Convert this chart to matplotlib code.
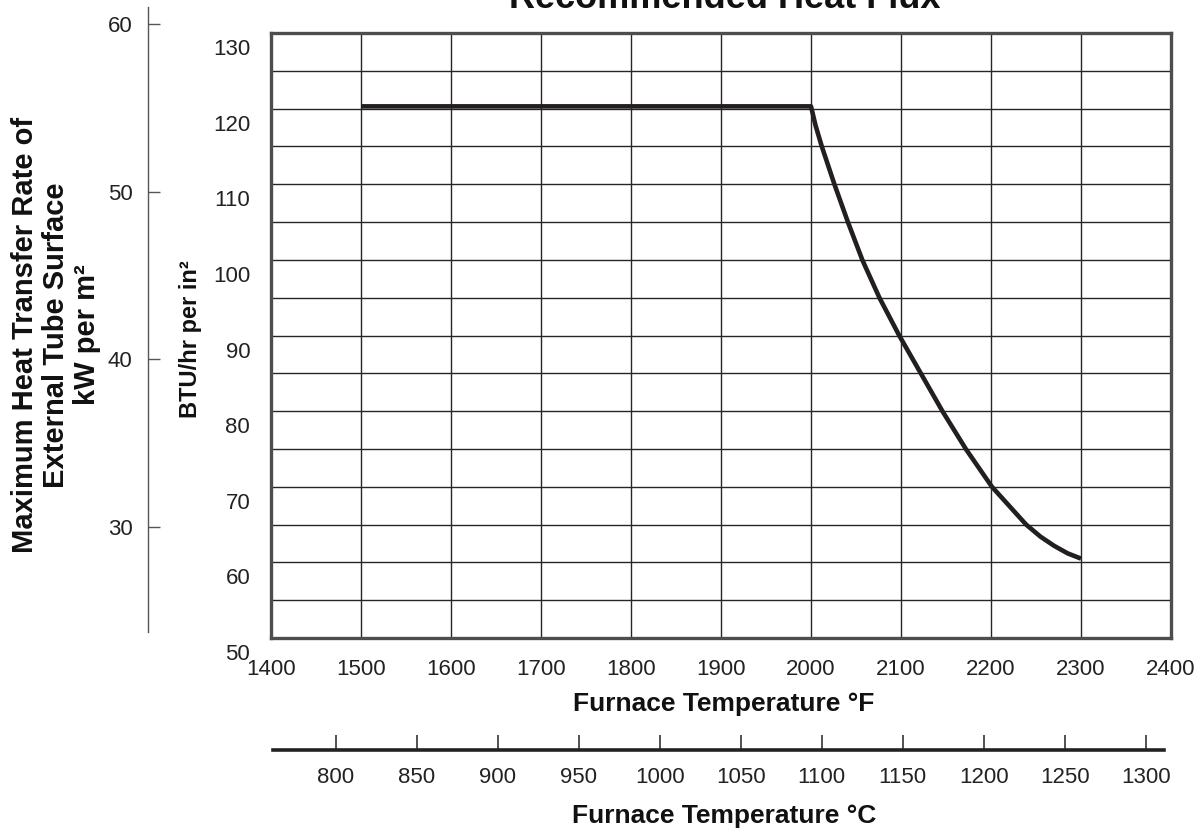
import numpy as np
import matplotlib
matplotlib.use("Agg")
import matplotlib.pyplot as plt
from matplotlib.transforms import ScaledTranslation

plt.rcParams['font.family'] = ['Liberation Sans', 'DejaVu Sans']

# ---- data ----
temp_f = [1500, 2000, 2005, 2012, 2026, 2041, 2057, 2076, 2098, 2122, 2146, 2172,
          2201, 2220, 2239, 2255, 2270, 2285, 2300]
flux_btu = [120.3, 120.3, 117.8, 115, 110, 105, 100, 95, 90, 85, 80, 75,
            70, 67.5, 65, 63.4, 62.2, 61.2, 60.5]

f_ticks = [1400, 1500, 1600, 1700, 1800, 1900, 2000, 2100, 2200, 2300, 2400]
btu_ticks = [50, 60, 70, 80, 90, 100, 110, 120, 130]
btu_minor = [55, 65, 75, 85, 95, 105, 115, 125]
kw_ticks = [30, 40, 50, 60]
c_ticks = [800, 850, 900, 950, 1000, 1050, 1100, 1150, 1200, 1250, 1300]

title = "Recommended Heat Flux"
xlabel_f = "Furnace Temperature °F"
xlabel_c = "Furnace Temperature °C"
ylabel_btu = "BTU/hr per in²"
ylabel_kw = "Maximum Heat Transfer Rate of\nExternal Tube Surface\nkW per m²"

W, H = 1199, 833
fig = plt.figure(figsize=(W / 100, H / 100), dpi=100)


def box(l, t, r, b):
    return [l / W, 1 - b / H, (r - l) / W, (b - t) / H]


# ---- main axes ----
ax = fig.add_axes(box(271, 33, 1171, 638))
ax.plot(temp_f, flux_btu, color='#231f20', lw=3.3,
        solid_joinstyle='round', solid_capstyle='butt', zorder=5)
ax.set_xlim(1400, 2400)
ax.set_ylim(50, 130)
ax.set_xticks(f_ticks)
ax.set_xticklabels([str(v) for v in f_ticks])
ax.set_yticks(btu_ticks)
ax.set_yticklabels([str(v) for v in btu_ticks])
ax.set_yticks(btu_minor, minor=True)
ax.grid(which='both', color='#262626', lw=1.0)
ax.set_axisbelow(True)
ax.tick_params(which='both', length=0)
ax.tick_params(axis='x', pad=15, labelsize=16, labelcolor='#222')
ax.tick_params(axis='y', pad=15, labelsize=16, labelcolor='#222')
for s in ax.spines.values():
    s.set_linewidth(2.4)
    s.set_color('#4d4d4d')
off = ScaledTranslation(0, -0.14, fig.dpi_scale_trans)
for lbl in ax.get_yticklabels():
    lbl.set_transform(lbl.get_transform() + off)

# ---- outer kW per m2 scale ----
axk = fig.add_axes(box(148, 7, 149, 632))
axk.set_ylim(23.74, 61.01)
axk.set_yticks(kw_ticks)
axk.set_yticklabels([str(v) for v in kw_ticks])
axk.patch.set_visible(False)
for k in ['right', 'top', 'bottom']:
    axk.spines[k].set_visible(False)
axk.spines['left'].set_color('#555555')
axk.spines['left'].set_linewidth(1.0)
axk.xaxis.set_visible(False)
axk.tick_params(axis='y', direction='in', length=8.6, width=1.0, color='#555555',
                pad=11, labelsize=16, labelcolor='#222')

# ---- Celsius scale ----
axc = fig.add_axes(box(271, 735, 1171, 750))
axc.set_xlim((1400 - 32) / 1.8, (2400 - 32) / 1.8)
axc.set_xticks(c_ticks)
axc.set_xticklabels([str(v) for v in c_ticks])
axc.patch.set_visible(False)
for k in ['right', 'top', 'left']:
    axc.spines[k].set_visible(False)
axc.spines['bottom'].set_linewidth(2.6)
axc.spines['bottom'].set_color('#222222')
axc.spines['bottom'].set_bounds(761.2, 1311.2)
axc.yaxis.set_visible(False)
axc.tick_params(axis='x', direction='in', length=11, width=1.1, color='#222222',
                pad=12, labelsize=16, labelcolor='#222')

# ---- texts ----
fig.text(725 / W, 1 - 8 / H, title, ha='center', va='baseline',
         fontsize=26, weight='bold', color='#111')
fig.text(724 / W, 1 - 704 / H, xlabel_f, ha='center', va='center',
         fontsize=19, weight='bold', color='#111')
fig.text(724 / W, 1 - 816 / H, xlabel_c, ha='center', va='center',
         fontsize=19, weight='bold', color='#111')
fig.text(190 / W, 1 - 339 / H, ylabel_btu, ha='center', va='center', rotation=90,
         fontsize=17, weight='bold', color='#111')
fig.text(56 / W, 1 - 335 / H, ylabel_kw, ha='center', va='center', rotation=90,
         fontsize=21, weight='bold', color='#111', linespacing=1.12,
         multialignment='center')

fig.savefig('out.png', dpi=100)
